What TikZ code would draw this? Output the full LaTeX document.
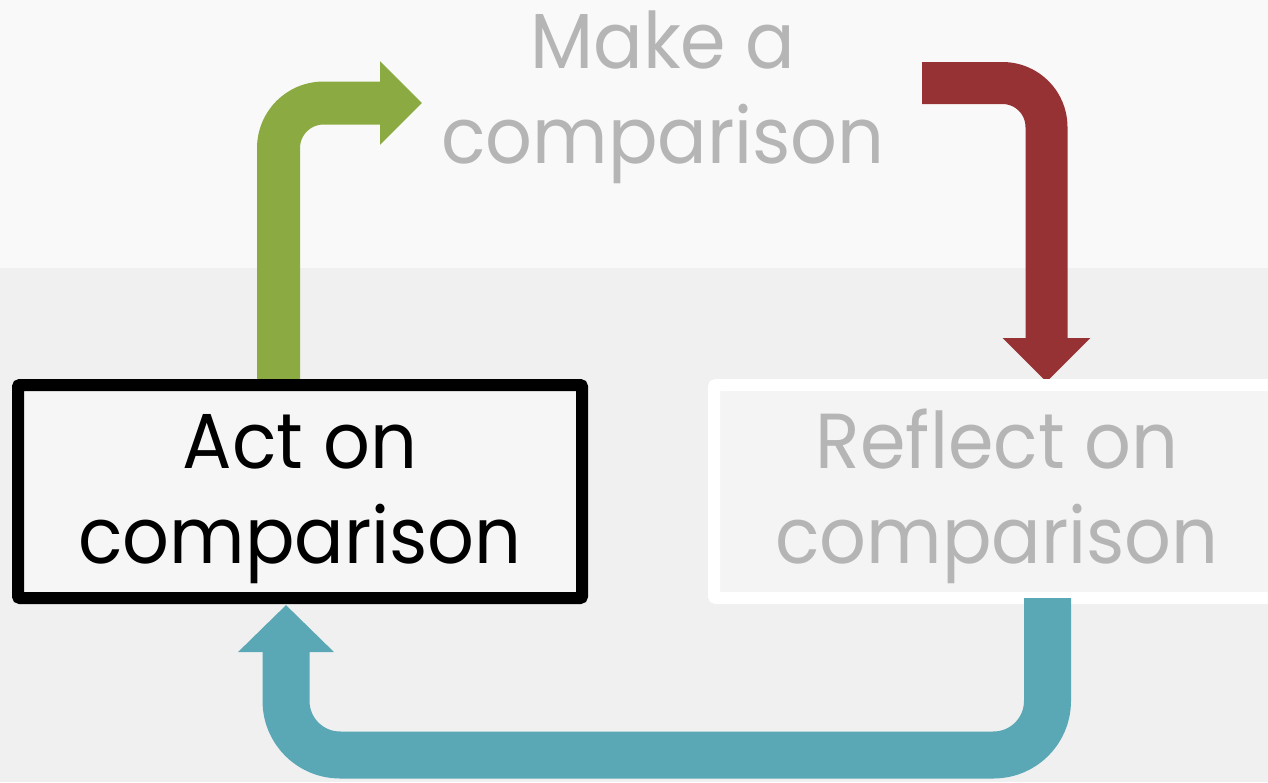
\documentclass[tikz,border=0pt]{standalone}
\usepackage{fontspec}
\setmainfont{Poppins}[FakeStretch=0.94]
\usetikzlibrary{arrows.meta}
\definecolor{bgtop}{HTML}{F9F9F9}
\definecolor{bgbot}{HTML}{F0F0F0}
\definecolor{arrgreen}{HTML}{8BAB42}
\definecolor{arrred}{HTML}{973234}
\definecolor{arrteal}{HTML}{5AA7B5}
\definecolor{softtext}{HTML}{B5B5B5}
\definecolor{actfill}{HTML}{F6F6F6}
\definecolor{reflfill}{HTML}{F4F4F4}
\begin{document}
\begin{tikzpicture}[x=1pt,y=-1pt,
  lbl/.style={inner sep=0pt, anchor=base, font=\fontsize{78}{94}\selectfont},
  boxstyle/.style={rectangle, line width=12pt, rounded corners=2pt, minimum width=564pt, minimum height=213pt, inner sep=0pt},
  flow/.style={line width=#1, line join=round, line cap=butt}
]
\useasboundingbox (0,0) rectangle (1268,782);
\clip (0,0) rectangle (1268,782);
\fill[bgbot] (0,0) rectangle (1268,782);
\fill[bgtop] (0,0) rectangle (1268,268);

% coordinates for connector ends
\coordinate (g0) at (278.5,382);
\coordinate (g1) at (422,103);
\coordinate (r0) at (922,83);
\coordinate (r1) at (1046.5,382);

% green arrow (Act -> Make)
\draw[flow=43pt, draw=arrgreen, rounded corners=45pt, -{Triangle[length=42pt,width=81pt]}] (g0) |- (g1);
% red arrow (Make -> Reflect)
\draw[flow=42pt, draw=arrred, rounded corners=44pt, -{Triangle[length=44pt,width=85pt]}] (r0) -| (r1);

% boxes
\node[boxstyle, draw=black, fill=actfill] (act) at (300,491.5) {};
\node[boxstyle, draw=white, fill=reflfill] (refl) at (996,491.5) {};

\coordinate (t0) at (1047.5,598);
\coordinate (t1) at (286,605);
% teal arrow (Reflect -> Act)
\draw[flow=47pt, draw=arrteal, rounded corners=54pt, -{Triangle[length=47pt,width=93pt]}] (t0) -- (1047.5,755) -- (286,755) -- (t1);

% texts
\node[lbl, text=black] (actA) at (300,468) {Act on};
\node[lbl, text=black] (actB) at (300,563) {comparison};
\node[lbl, text=softtext] (reflA) at (997,468) {Reflect on};
\node[lbl, text=softtext] (reflB) at (997,563) {comparison};
\node[lbl, text=softtext] (makeA) at (663,68) {Make a};
\node[lbl, text=softtext] (makeB) at (663,163) {comparison};
\end{tikzpicture}
\end{document}
